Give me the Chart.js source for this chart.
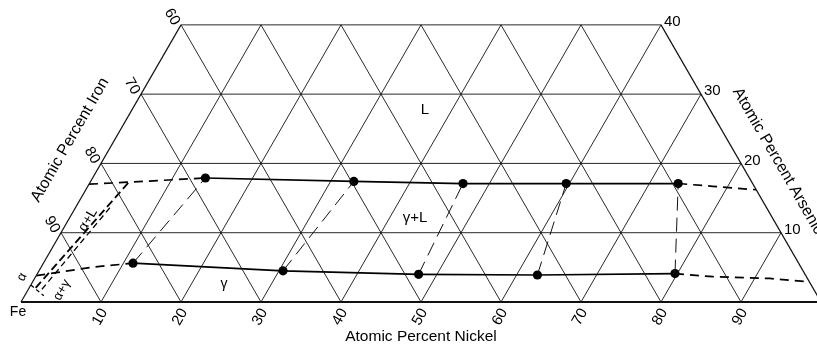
<!DOCTYPE html>
<html>
<head>
<meta charset="utf-8">
<script src="https://cdn.jsdelivr.net/npm/chart.js@4.4.1/dist/chart.umd.min.js"></script>
<style>
  html, body { margin: 0; padding: 0; background: #fff; }
  #wrap { width: 817px; height: 345px; }
</style>
</head>
<body>
<div id="wrap"><canvas id="chart" width="817" height="345"></canvas></div>
<script>
// ----- data (atomic percent) -----
const niTicks = [10, 20, 30, 40, 50, 60, 70, 80, 90];
const feTicks = [90, 80, 70, 60];
const asTicks = [10, 20, 30, 40];
const asLevels = [0, 10, 20, 30, 40];

// liquidus (gamma+L / L), segment flags: 1 = dashed
const liquidusNi = [0, 4.9, 14.1, 32.9, 46.7, 59.6, 73.6, 78.1, 83.8];
const liquidusAs = [17.0, 17.3, 17.9, 17.4, 17.1, 17.1, 17.1, 16.7, 16.2];
const liquidusDash = [1, 1, 0, 0, 0, 0, 1, 1];

// solidus (gamma / gamma+L)
const solidusNi = [0, 6.5, 11.2, 30.5, 47.7, 62.6, 79.7, 84.7, 91.9, 97.1];
const solidusAs = [3.8, 5.05, 5.6, 4.5, 4.0, 3.9, 4.1, 3.65, 3.4, 2.9];
const solidusDash = [1, 1, 0, 0, 0, 0, 1, 1, 1];

// tie lines: solid (gamma) end -> liquid end
const tieSolNi = [11.2, 30.5, 47.7, 62.6, 79.7];
const tieSolAs = [5.6, 4.5, 4.0, 3.9, 4.1];
const tieLiqNi = [14.1, 32.9, 46.7, 59.6, 73.6];
const tieLiqAs = [17.9, 17.4, 17.1, 17.1, 17.1];

// alpha-corner boundaries
const alphaANi = [4.8, 0.7], alphaAAs = [17.2, 1.6];
const alphaBNi = [4.3, 1.6], alphaBAs = [13.6, 1.4];
const alphaCNi = [0.0, 2.4], alphaCAs = [2.45, 0.9];

// ----- helpers -----
const H = Math.sqrt(3) / 2;
const tp = (ni, as) => ({ x: ni + as / 2, y: as * H });
const FONT = "Liberation Sans, Arial, sans-serif";

function line(points, opts) {
  return Object.assign({
    data: points, showLine: true, pointRadius: 0, borderColor: "#111",
    borderWidth: 0.9, fill: false
  }, opts || {});
}

const datasets = [];

// grid: constant As
for (const a of asLevels) {
  datasets.push(line([tp(0, a), tp(100 - a, a)], { borderWidth: a === 0 ? 2 : 0.9 }));
}
// grid: constant Ni
for (const n of niTicks) {
  const top = Math.min(40, 100 - n);
  datasets.push(line([tp(n, 0), tp(n, top)]));
}
// grid: constant Fe
for (const n of niTicks) {
  const top = Math.min(40, n);
  datasets.push(line([tp(n, 0), tp(n - top, top)]));
}
// edges
datasets.push(line([tp(0, 0), tp(0, 40)], { borderWidth: 1.2 }));
datasets.push(line([tp(100, 0), tp(60, 40)], { borderWidth: 1.2 }));

// phase boundaries
const dashSeg = flags => ({ borderDash: c => (flags[c.p0DataIndex] ? [9, 6] : undefined) });
datasets.push(line(liquidusNi.map((n, i) => tp(n, liquidusAs[i])),
  { borderWidth: 1.7, borderColor: "#000", segment: dashSeg(liquidusDash) }));
datasets.push(line(solidusNi.map((n, i) => tp(n, solidusAs[i])),
  { borderWidth: 1.7, borderColor: "#000", segment: dashSeg(solidusDash) }));

for (let i = 0; i < tieSolNi.length; i++) {
  datasets.push(line([tp(tieSolNi[i], tieSolAs[i]), tp(tieLiqNi[i], tieLiqAs[i])],
    { borderWidth: 1, borderDash: [14, 7] }));
}

datasets.push(line(alphaANi.map((n, i) => tp(n, alphaAAs[i])), { borderWidth: 1.8, borderDash: [8, 4], borderColor: "#000" }));
datasets.push(line(alphaBNi.map((n, i) => tp(n, alphaBAs[i])), { borderWidth: 1.3, borderDash: [6, 4], borderColor: "#000" }));
datasets.push(line(alphaCNi.map((n, i) => tp(n, alphaCAs[i])), { borderWidth: 1.2, borderDash: [4, 3], borderColor: "#000" }));

// dots at tie-line ends
datasets.push({
  data: tieSolNi.map((n, i) => tp(n, tieSolAs[i])).concat(tieLiqNi.map((n, i) => tp(n, tieLiqAs[i]))),
  showLine: false, pointRadius: 4.6, pointBackgroundColor: "#000", pointBorderWidth: 0
});

// ----- labels -----
const labelPlugin = {
  id: "ternaryLabels",
  afterDatasetsDraw(chart) {
    const { ctx, scales: { x, y } } = chart;
    const pos = (ni, as) => { const p = tp(ni, as); return [x.getPixelForValue(p.x), y.getPixelForValue(p.y)]; };
    const text = (s, px, py, rot, size, align) => {
      ctx.save();
      ctx.translate(px, py);
      ctx.rotate((rot || 0) * Math.PI / 180);
      ctx.font = `${size || 15}px ${FONT}`;
      ctx.fillStyle = "#000";
      ctx.textAlign = align || "center";
      ctx.textBaseline = "middle";
      ctx.fillText(s, 0, 0);
      ctx.restore();
    };

    for (const n of niTicks) {
      const [px, py] = pos(n, 0);
      text(String(n), px - 1, py + 15, -60);
    }
    for (const f of feTicks) {
      const [px, py] = pos(0, 100 - f);
      text(String(f), px - 9, py - 8, 60);
    }
    for (const a of asTicks) {
      const [px, py] = pos(100 - a, a);
      text(String(a), px + 3, py - 3, 0, 15, "left");
    }

    text("Fe", 18, 312, 0, 14);
    text("Atomic Percent Nickel", 421, 337, 0, 15.5);
    text("Atomic Percent Iron", 70, 140, -60, 16);
    text("Atomic Percent Arsenic", 778, 161, 60, 16);

    text("L", 425, 110, 0, 15);
    text("\u03b3+L", 415, 218, 0, 15);
    text("\u03b3", 224, 284, 0, 14);
    text("\u03b1+L", 88, 220, -60, 14);
    text("\u03b1", 22, 277, -60, 13);
    text("\u03b1+\u03b3", 62, 290, -60, 13);
  }
};

new Chart(document.getElementById("chart"), {
  type: "scatter",
  data: { datasets },
  options: {
    responsive: false,
    animation: false,
    layout: { padding: 0, autoPadding: false },
    plugins: { legend: { display: false }, tooltip: { enabled: false } },
    scales: {
      x: { type: "linear", min: -2.625, max: 99.5, display: false },
      y: { type: "linear", min: -5.375, max: 37.75, display: false }
    }
  },
  plugins: [labelPlugin]
});
</script>
</body>
</html>
